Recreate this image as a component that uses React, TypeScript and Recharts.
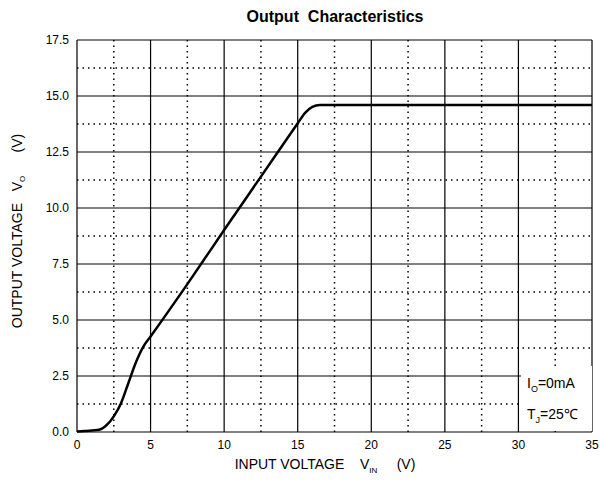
import { LineChart, Line, XAxis, YAxis, ReferenceLine } from 'recharts';

const vin = [0, 0.5, 1, 1.5, 2, 2.5, 3, 3.5, 4, 4.5, 5, 7.5, 10, 12.5, 15, 15.5, 16, 16.5, 17, 20, 25, 30, 35];
const vout = [0.02, 0.04, 0.07, 0.1, 0.3, 0.7, 1.3, 2.2, 3.1, 3.8, 4.26, 6.6, 9.02, 11.4, 13.78, 14.25, 14.52, 14.6, 14.6, 14.6, 14.6, 14.6, 14.6];

const xMajor = [0, 5, 10, 15, 20, 25, 30, 35];
const xMinor = [2.5, 7.5, 12.5, 17.5, 22.5, 27.5, 32.5];
const yMajor = [0, 2.5, 5, 7.5, 10, 12.5, 15, 17.5];
const yMinor = [1.25, 3.75, 6.25, 8.75, 11.25, 13.75, 16.25];

const data = vin.map((v, i) => ({ vin: v, vout: vout[i] }));

const font = '"Liberation Sans", Arial, sans-serif';

export default function App() {
  return (
    <div style={{ position: 'absolute', left: 0, top: 0, width: 600, height: 488, background: '#fff', fontFamily: font }}>
      <LineChart width={600} height={488} data={data} margin={{ top: 40, right: 8, bottom: 36, left: 37 }}>
        <XAxis
          dataKey="vin"
          type="number"
          domain={[0, 35]}
          ticks={xMajor}
          axisLine={false}
          tickLine={false}
          height={20}
          tick={{ fill: '#000', fontSize: 12, fontFamily: font }}
        />
        <YAxis
          type="number"
          domain={[0, 17.5]}
          ticks={yMajor}
          axisLine={false}
          tickLine={false}
          width={40}
          tick={{ fill: '#000', fontSize: 12, fontFamily: font }}
          tickFormatter={(v: number) => v.toFixed(1)}
        />
        {xMinor.map(v => (
          <ReferenceLine key={'xm' + v} x={v} stroke="#000" strokeDasharray="1.5 4" strokeWidth={1.5} />
        ))}
        {yMinor.map(v => (
          <ReferenceLine key={'ym' + v} y={v} stroke="#000" strokeDasharray="1.5 4" strokeWidth={1.5} />
        ))}
        {xMajor.map(v => (
          <ReferenceLine key={'xM' + v} x={v} stroke="#000" strokeWidth={1.2} />
        ))}
        {yMajor.map(v => (
          <ReferenceLine key={'yM' + v} y={v} stroke="#000" strokeWidth={1.2} />
        ))}
        <Line
          type="monotone"
          dataKey="vout"
          stroke="#000"
          strokeWidth={2.5}
          dot={false}
          isAnimationActive={false}
        />
      </LineChart>

      <div style={{ position: 'absolute', left: 77, width: 516, top: 8, textAlign: 'center', fontSize: 16, fontWeight: 'bold', whiteSpace: 'pre' }}>
        {'Output  Characteristics'}
      </div>

      <div style={{ position: 'absolute', left: 521, top: 366, width: 71, height: 65, background: '#fff', fontSize: 14, lineHeight: '25px', paddingLeft: 6, boxSizing: 'border-box', paddingTop: 5 }}>
        <div>I<sub style={{ fontSize: 9 }}>O</sub>=0mA</div>
        <div>T<sub style={{ fontSize: 9 }}>J</sub>=25℃</div>
      </div>

      <div style={{ position: 'absolute', left: 77, width: 516, top: 456, textAlign: 'center', fontSize: 14, whiteSpace: 'pre', paddingRight: 20, boxSizing: 'border-box' }}>
        {'INPUT VOLTAGE    V'}<sub style={{ fontSize: 8 }}>IN</sub>{'     (V)'}
      </div>

      <div style={{ position: 'absolute', left: 18, top: 231, width: 0, height: 0 }}>
        <div style={{ position: 'absolute', transform: 'translate(-50%, -50%) rotate(-90deg)', fontSize: 14, whiteSpace: 'pre' }}>
          {'OUTPUT VOLTAGE   V'}<sub style={{ fontSize: 8 }}>O</sub>{'      (V)'}
        </div>
      </div>
    </div>
  );
}
